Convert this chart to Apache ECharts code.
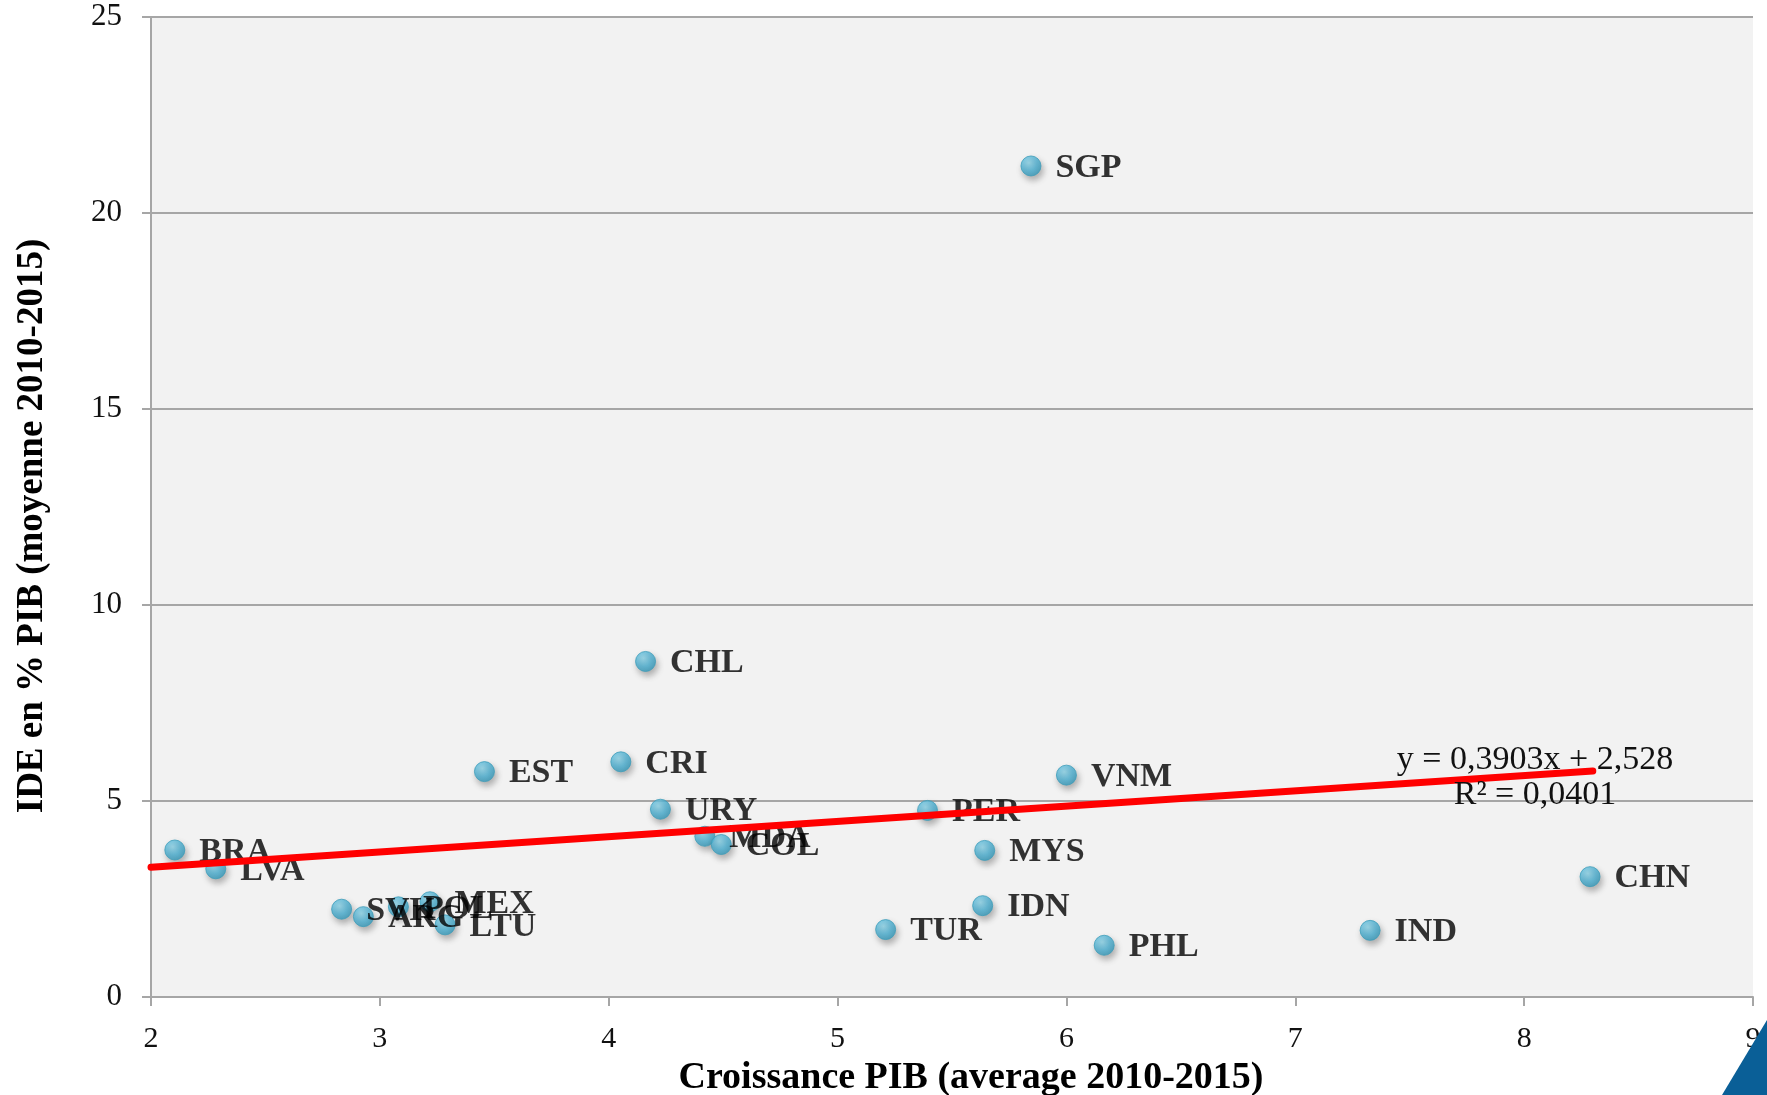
<!DOCTYPE html>
<html>
<head>
<meta charset="utf-8">
<script src="https://cdn.jsdelivr.net/npm/echarts@6/dist/echarts.min.js"></script>
<style>html,body{margin:0;padding:0;background:#fff}#c{width:1767px;height:1095px}</style>
</head>
<body>
<div id="c"></div>
<script>
const countries = ['SGP','CHL','CRI','EST','VNM','URY','PER','MDA','COL','BRA','MYS','LVA','CHN','MEX','POL','SVK','ARG','IDN','LTU','TUR','IND','PHL'];
const gdpGrowth = [5.845,4.161,4.053,3.457,6.0,4.226,5.393,4.42,4.492,2.104,5.643,2.283,8.288,3.219,3.081,2.833,2.928,5.634,3.285,5.21,7.327,6.165];
const fdiShare = [21.2,8.56,6.0,5.75,5.66,4.79,4.76,4.10,3.89,3.75,3.74,3.27,3.07,2.43,2.30,2.24,2.05,2.33,1.84,1.72,1.70,1.32];
const trendSlope = 0.3903;
const trendIntercept = 2.528;
const trendRange = [2, 8.3];
const equationLines = ['y = 0,3903x + 2,528', 'R² = 0,0401'];
const xTitle = 'Croissance PIB (average 2010-2015)';
const yTitle = 'IDE en % PIB (moyenne 2010-2015)';

const points = countries.map((c, i) => ({ name: c, value: [gdpGrowth[i], fdiShare[i]] }));
const trend = trendRange.map(x => [x, trendSlope * x + trendIntercept]);

const serif = '"Liberation Serif", "DejaVu Serif", serif';
const chart = echarts.init(document.getElementById('c'));
chart.setOption({
  animation: false,
  backgroundColor: '#ffffff',
  grid: { left: 151, right: 14, top: 17, bottom: 98, show: true, backgroundColor: '#f2f2f2', borderWidth: 0,
          containLabel: false, outerBoundsMode: 'none' },
  xAxis: {
    type: 'value', min: 2, max: 9, interval: 1,
    name: xTitle, nameLocation: 'middle', nameGap: 60,
    nameTextStyle: { fontFamily: serif, fontWeight: 'bold', fontSize: 38, color: '#000', padding: [0, 0, 0, 38] },
    axisLine: { show: true, lineStyle: { color: '#a6a6a6', width: 2 } },
    axisTick: { show: true, length: 9, lineStyle: { color: '#a6a6a6', width: 2 } },
    axisLabel: { fontFamily: serif, fontSize: 30, color: '#111', margin: 27 },
    splitLine: { show: false }
  },
  yAxis: {
    type: 'value', min: 0, max: 25, interval: 5,
    name: yTitle, nameLocation: 'middle', nameGap: 100, nameRotate: 90,
    nameTextStyle: { fontFamily: serif, fontWeight: 'bold', fontSize: 37, color: '#000', padding: [0, 38, 0, 0] },
    axisLine: { show: true, lineStyle: { color: '#a6a6a6', width: 2 } },
    axisTick: { show: true, length: 9, lineStyle: { color: '#a6a6a6', width: 2 } },
    axisLabel: { fontFamily: serif, fontSize: 31, color: '#111', margin: 29 },
    splitLine: { show: true, lineStyle: { color: '#a6a6a6', width: 2 } }
  },
  series: [
    {
      type: 'scatter', z: 2,
      data: points,
      symbolSize: 20,
      itemStyle: {
        color: new echarts.graphic.RadialGradient(0.4, 0.35, 0.7, [
          { offset: 0, color: '#8fd8ee' },
          { offset: 0.55, color: '#4fb4d6' },
          { offset: 1, color: '#3497b8' }
        ]),
        borderColor: '#3d9dba', borderWidth: 1,
        shadowBlur: 6, shadowColor: 'rgba(0,0,0,0.35)', shadowOffsetX: 2, shadowOffsetY: 4
      },
      label: {
        show: true, position: 'right', distance: 14, offset: [0, 2],
        formatter: p => p.name,
        fontFamily: serif, fontWeight: 'bold', fontSize: 34, color: '#000'
      },
      emphasis: { disabled: true }
    },
    {
      type: 'line', z: 10,
      data: trend,
      showSymbol: false, symbol: 'none',
      lineStyle: { color: '#ff0000', width: 7, cap: 'round' },
      silent: true
    }
  ],
  graphic: [
    { type: 'text', x: 1535, y: 760, z: 20,
      style: { text: equationLines[0], textAlign: 'center', textVerticalAlign: 'middle', font: '34px "Liberation Serif", serif', fill: '#111' } },
    { type: 'text', x: 1535, y: 795, z: 20,
      style: { text: equationLines[1], textAlign: 'center', textVerticalAlign: 'middle', font: '34px "Liberation Serif", serif', fill: '#111' } },
    { type: 'polygon', z: 30,
      shape: { points: [[1722, 1095], [1767, 1020], [1767, 1095]] },
      style: { fill: '#0a5f97' } }
  ]
});
</script>
</body>
</html>
